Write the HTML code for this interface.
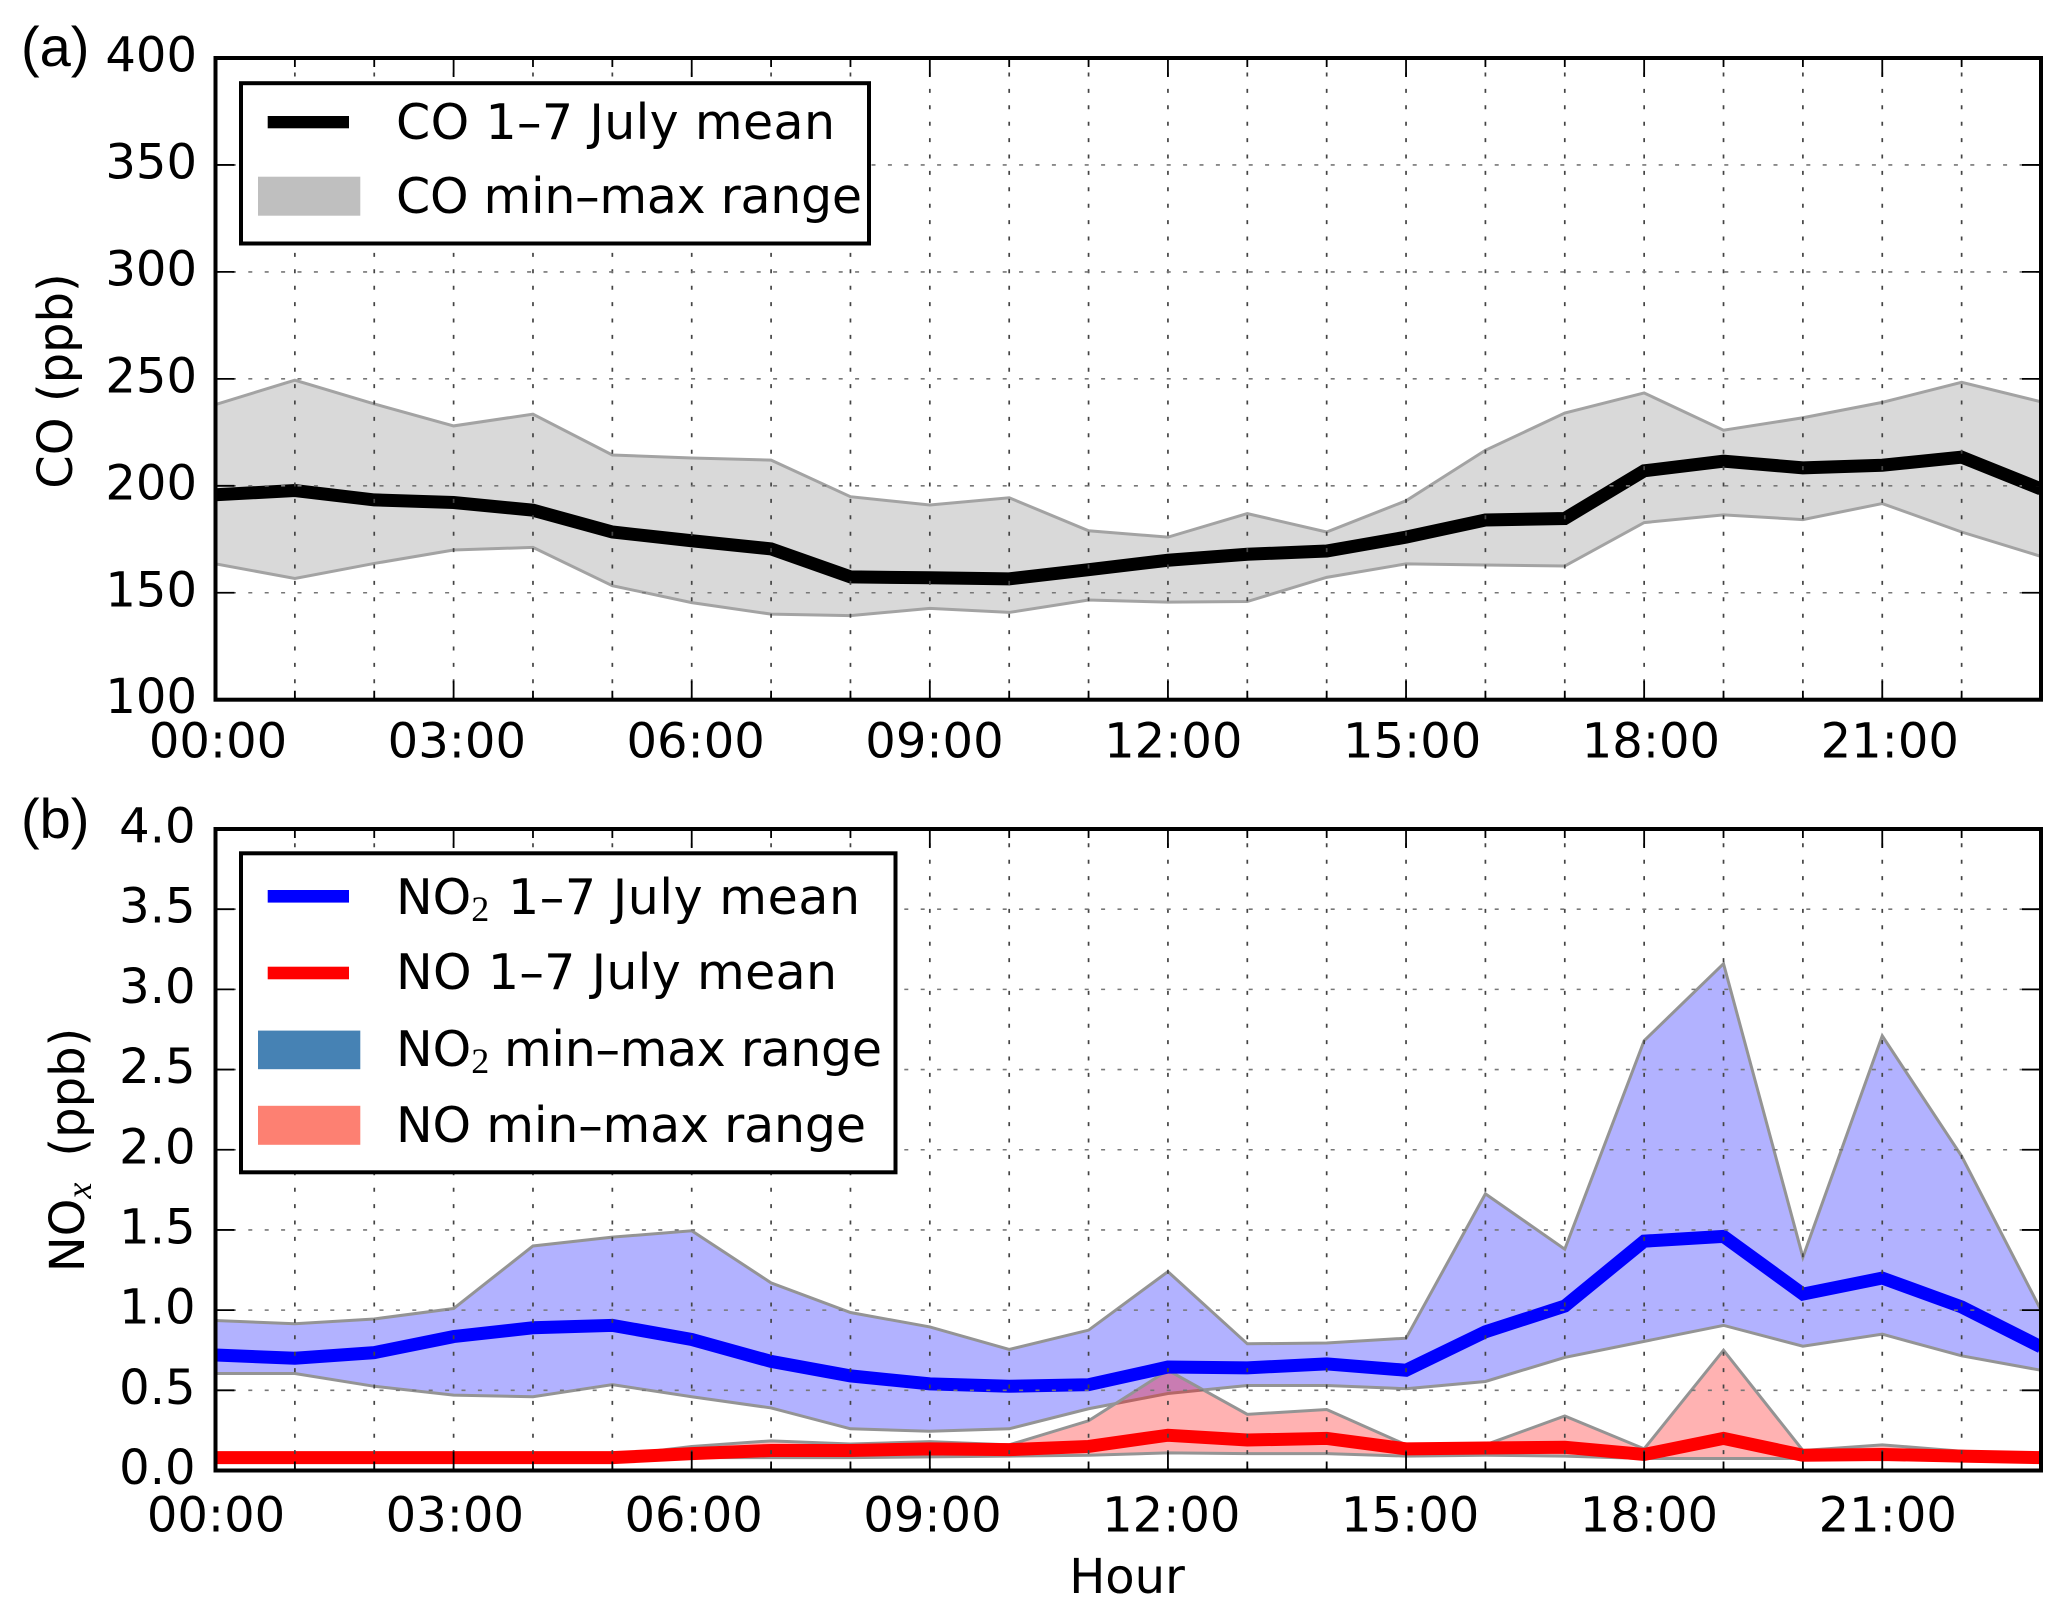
<!DOCTYPE html>
<html lang="en">
<head>
<meta charset="utf-8">
<title>CO and NOx diurnal range</title>
<style>
html,body{margin:0;padding:0;background:#fff;}
svg{display:block;}
text{font-family:"DejaVu Sans","Liberation Sans",sans-serif;font-size:48px;fill:#000;}
.leg{font-size:49px;}
.sub{font-family:"Liberation Serif",serif;font-size:36px;}
.panel-tag{font-family:"Liberation Sans",sans-serif;font-size:56px;}
</style>
</head>
<body>
<svg id="chart" width="2067" height="1618" viewBox="0 0 2067 1618" xmlns="http://www.w3.org/2000/svg">
  <rect x="0" y="0" width="2067" height="1618" fill="#fff"/>
  <defs>
    <clipPath id="clip-a"><rect x="215.5" y="58" width="1825.5" height="641.7"/></clipPath>
    <clipPath id="clip-b"><rect x="215.5" y="829" width="1825.5" height="641.5"/></clipPath>
  </defs>
  <g id="panel-a"></g>
  <g id="panel-b"></g>

  <text class="panel-tag" x="21" y="66">(a)</text>
  <text class="panel-tag" x="21" y="838">(b)</text>
  <text transform="translate(72 381) rotate(-90)" text-anchor="middle">CO (ppb)</text>
  <text transform="translate(84 1150) rotate(-90)" text-anchor="middle">NO<tspan class="sub" font-style="italic" dy="7">x</tspan><tspan dy="-7" dx="26">(ppb)</tspan></text>
  <text x="1127" y="1593" text-anchor="middle">Hour</text>

  <g>
    <rect x="241" y="83.2" width="628" height="160.3" fill="#fff" stroke="#000" stroke-width="4"/>
    <rect x="267.7" y="116" width="81.3" height="12.3" fill="#000"/>
    <text class="leg" x="396" y="139" textLength="439">CO 1–7 July mean</text>
    <rect x="258" y="176.7" width="102.3" height="39" fill="#bfbfbf"/>
    <text class="leg" x="396" y="213" textLength="466">CO min–max range</text>
  </g>
  <g>
    <rect x="241" y="853.3" width="654.5" height="319" fill="#fff" stroke="#000" stroke-width="4"/>
    <rect x="267.7" y="890" width="81.3" height="12.6" fill="#0000ff"/>
    <text class="leg" x="396" y="914">NO<tspan class="sub" dy="7">2</tspan><tspan x="508" dy="-7" textLength="352">1–7 July mean</tspan></text>
    <rect x="267.7" y="966.7" width="81.3" height="12.6" fill="#ff0000"/>
    <text class="leg" x="396" y="989" textLength="441">NO 1–7 July mean</text>
    <rect x="258" y="1030.6" width="102.3" height="38.6" fill="#4682b4"/>
    <text class="leg" x="396" y="1066">NO<tspan class="sub" dy="7">2</tspan><tspan x="504" dy="-7" textLength="378">min–max range</tspan></text>
    <rect x="258" y="1105.8" width="102.3" height="39" fill="#fd8072"/>
    <text class="leg" x="396" y="1142" textLength="470">NO min–max range</text>
  </g>
</svg>
<script>
const hours = [0,1,2,3,4,5,6,7,8,9,10,11,12,13,14,15,16,17,18,19,20,21,22,23];
const xTickHours = [0,3,6,9,12,15,18,21];
const xTickLabels = ['00:00','03:00','06:00','09:00','12:00','15:00','18:00','21:00'];

const coTicks = [100,150,200,250,300,350,400];
const coTickLabels = ['100','150','200','250','300','350','400'];
const coMean = [195.8,197.8,193.4,192.2,188.6,178.4,174.3,170.5,157.4,157,156.5,160.8,165.2,168,169.5,176,184,184.7,207,211.5,208.4,209.6,213.4,198.5];
const coMax = [238,249.4,238.3,228,233.5,214.4,213,212,194.9,191,194.4,179,176,187,178.4,193,216.6,234,243.4,226,231.8,239,248.4,239.3];
const coMin = [163.5,156.7,163.7,170,171.2,153.3,145.4,140,139.3,142.7,140.8,146.6,145.6,145.9,157.2,163.5,163,162.5,182.8,186.4,184.2,191.7,178.4,167];

const noxTicks = [0,0.5,1,1.5,2,2.5,3,3.5,4];
const noxTickLabels = ['0.0','0.5','1.0','1.5','2.0','2.5','3.0','3.5','4.0'];
const no2Mean = [0.72,0.70,0.735,0.835,0.89,0.905,0.817,0.68,0.59,0.54,0.525,0.535,0.645,0.64,0.665,0.625,0.865,1.025,1.43,1.46,1.10,1.20,1.02,0.77];
const no2Max = [0.935,0.915,0.945,1.01,1.40,1.455,1.495,1.17,0.985,0.895,0.755,0.875,1.24,0.79,0.795,0.825,1.725,1.38,2.68,3.16,1.33,2.71,1.96,1];
const no2Min = [0.605,0.605,0.525,0.47,0.46,0.535,0.46,0.39,0.26,0.245,0.26,0.385,0.48,0.53,0.53,0.51,0.555,0.705,0.805,0.905,0.775,0.85,0.715,0.625];
const noMean = [0.08,0.08,0.08,0.08,0.08,0.08,0.105,0.125,0.125,0.135,0.13,0.15,0.22,0.19,0.2,0.135,0.14,0.145,0.1,0.2,0.095,0.1,0.09,0.08];
const noMax = [0.09,0.09,0.09,0.09,0.09,0.09,0.15,0.185,0.165,0.18,0.16,0.31,0.625,0.35,0.38,0.16,0.16,0.34,0.135,0.75,0.125,0.16,0.12,0.09];
const noMin = [0.07,0.07,0.07,0.07,0.07,0.07,0.08,0.08,0.08,0.085,0.09,0.095,0.11,0.105,0.105,0.09,0.095,0.09,0.075,0.075,0.075,0.08,0.075,0.07];

const SVG_NS = 'http://www.w3.org/2000/svg';
const plotLeft = 215.5;
const plotRight = 2041;

function xScale(h) {
  return plotLeft + (h - hours[0]) / (hours[hours.length - 1] - hours[0]) * (plotRight - plotLeft);
}
function makeYScale(domainMin, domainMax, bottom, top) {
  return function (v) {
    return bottom - (v - domainMin) / (domainMax - domainMin) * (bottom - top);
  };
}
function make(tag, parent, props) {
  const node = document.createElementNS(SVG_NS, tag);
  Object.keys(props).forEach(function (k) { node.setAttribute(k, props[k]); });
  parent.appendChild(node);
  return node;
}
function linePath(values, y) {
  return values.map(function (v, i) {
    return (i ? 'L' : 'M') + xScale(hours[i]).toFixed(2) + ' ' + y(v).toFixed(2);
  }).join(' ');
}
function bandPath(upper, lower, y) {
  const back = lower.map(function (v, i) { return [hours[i], v]; }).reverse();
  const tail = back.map(function (p) {
    return 'L' + xScale(p[0]).toFixed(2) + ' ' + y(p[1]).toFixed(2);
  }).join(' ');
  return linePath(upper, y) + ' ' + tail + ' Z';
}
function drawBand(parent, upper, lower, y, color, edge, name) {
  const band = make('path', parent, {
    d: bandPath(upper, lower, y),
    fill: color,
    'fill-opacity': 0.3,
    stroke: edge,
    'stroke-width': 3,
    'stroke-linejoin': 'miter'
  });
  
  
}
function drawLine(parent, values, y, color, name) {
  const line = make('path', parent, {
    d: linePath(values, y),
    fill: 'none',
    stroke: color,
    'stroke-width': 13,
    'stroke-linejoin': 'miter',
    'stroke-linecap': 'butt'
  });
  
  
}
function drawGridAndAxes(parent, y, ticks, labels, top, bottom, labelRight, xLabelShift, xLabelBaseline) {
  hours.forEach(function (h) {
    const gx = xScale(h);
    const grid = make('line', parent, {
      x1: gx, x2: gx, y1: bottom, y2: top,
      stroke: '#444', 'stroke-width': 1.7, 'stroke-dasharray': '4 12.4'
    });
    
    
  });
  ticks.forEach(function (t) {
    const gy = y(t);
    const grid = make('line', parent, {
      x1: plotLeft, x2: plotRight, y1: gy, y2: gy,
      stroke: '#777', 'stroke-width': 1.6, 'stroke-dasharray': '4 12.4'
    });
    
    
  });
  hours.forEach(function (h) {
    const tx = xScale(h);
    const len = xTickHours.indexOf(h) >= 0 ? 19 : 9;
    const tickPath = make('path', parent, {
      d: 'M' + tx + ' ' + bottom + ' v' + (-len) + ' M' + tx + ' ' + top + ' v' + len,
      stroke: '#000', 'stroke-width': 1.8, fill: 'none'
    });
    
    
  });
  ticks.forEach(function (t) {
    const gy = y(t);
    const tickPath = make('path', parent, {
      d: 'M' + plotLeft + ' ' + gy + ' h19 M' + plotRight + ' ' + gy + ' h-19',
      stroke: '#000', 'stroke-width': 1.8, fill: 'none'
    });
    
    
  });
  const frame = make('rect', parent, {
    x: plotLeft, y: top, width: plotRight - plotLeft, height: bottom - top,
    fill: 'none', stroke: '#000', 'stroke-width': 4
  });
  
  
  ticks.forEach(function (t, i) {
    const label = make('text', parent, {
      x: labelRight, y: y(t) + 13.5, 'text-anchor': 'end'
    });
    label.textContent = labels[i];
    
    
  });
  xTickHours.forEach(function (h, i) {
    const ramp = 5 * h / xTickHours[xTickHours.length - 1];
    const label = make('text', parent, {
      x: xScale(h) + xLabelShift + ramp, y: xLabelBaseline, 'text-anchor': 'middle'
    });
    label.textContent = xTickLabels[i];
    
    
  });
}

(function drawCoPanel() {
  const top = 58, bottom = 699.7;
  const root = document.getElementById('panel-a');
  const y = makeYScale(coTicks[0], coTicks[coTicks.length - 1], bottom, top);
  const plot = make('g', root, { 'clip-path': 'url(#clip-a)' });
  
  
  drawBand(plot, coMax, coMin, y, '#808080', '#a3a3a3', 'co-min-max-band');
  drawLine(plot, coMean, y, '#000000', 'co-mean-line');
  drawGridAndAxes(root, y, coTicks, coTickLabels, top, bottom, 197, 2.5, 757.5);
})();

(function drawNoxPanel() {
  const top = 829, bottom = 1470.5;
  const root = document.getElementById('panel-b');
  const y = makeYScale(noxTicks[0], noxTicks[noxTicks.length - 1], bottom, top);
  const plot = make('g', root, { 'clip-path': 'url(#clip-b)' });
  
  
  drawBand(plot, no2Max, no2Min, y, '#0000ff', '#949494', 'no2-min-max-band');
  drawBand(plot, noMax, noMin, y, '#ff0000', '#949494', 'no-min-max-band');
  drawLine(plot, no2Mean, y, '#0000ff', 'no2-mean-line');
  drawLine(plot, noMean, y, '#ff0000', 'no-mean-line');
  drawGridAndAxes(root, y, noxTicks, noxTickLabels, top, bottom, 195.5, 0.5, 1531.5);
})();
</script>
</body>
</html>
